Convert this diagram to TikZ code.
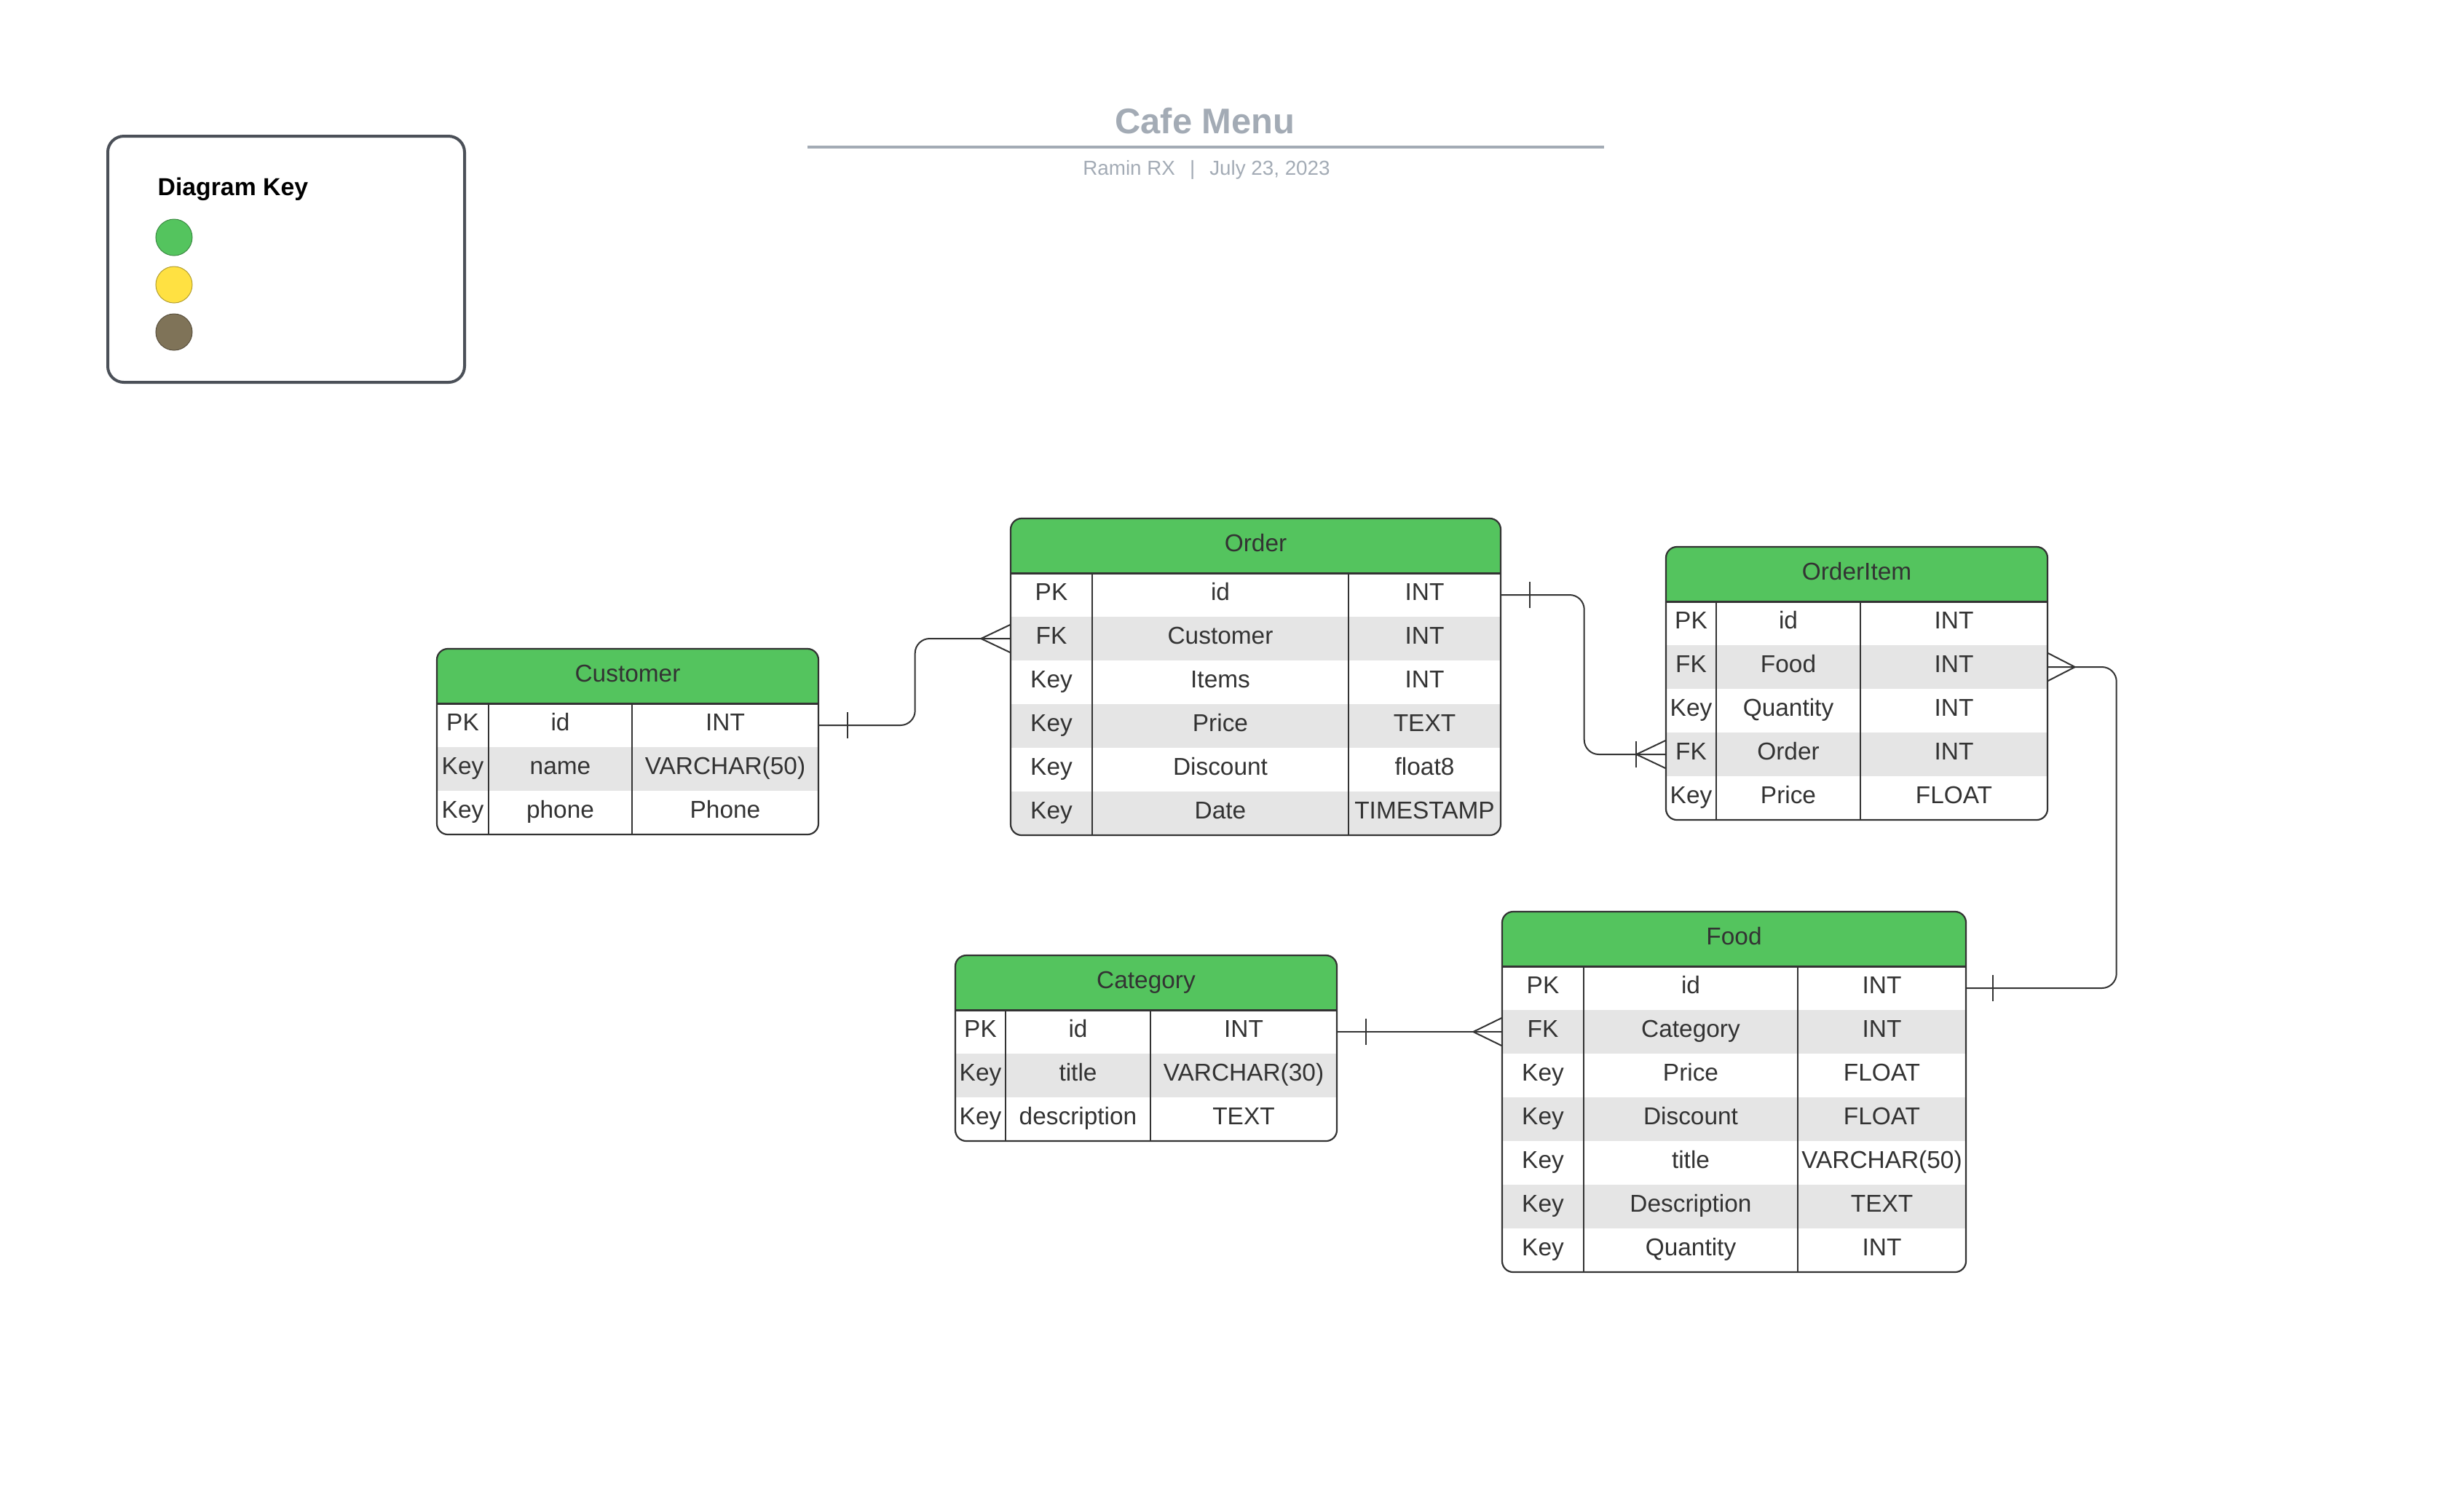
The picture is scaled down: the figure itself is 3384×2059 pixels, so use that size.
\documentclass[tikz,border=0pt]{standalone}
\usepackage{fontspec}
\setmainfont{Liberation Sans}
\usetikzlibrary{calc}

\definecolor{hdrgreen}{HTML}{54C45E}
\definecolor{rowgray}{HTML}{E5E5E5}
\definecolor{inkgray}{HTML}{333333}
\definecolor{titlegray}{HTML}{A3ABB5}
\definecolor{keyframe}{HTML}{4B5058}
\definecolor{keyyellow}{HTML}{FFE142}
\definecolor{keybrown}{HTML}{7F7358}

\tikzset{
	celltext/.style={inner sep=0pt, text height=6.8pt, text depth=0pt, yshift=0.04cm,
		font=\fontsize{9.5}{11}\selectfont, text=inkgray},
	rowbox/.style={inner sep=0pt, minimum height=0.6cm},
	link/.style={draw=inkgray, line width=0.02cm},
	tabline/.style={draw=inkgray, line width=0.022cm},
	keydot/.style={circle, inner sep=0pt, minimum size=0.5cm, line width=0.01cm},
}

% #1 name, #2 title, #3 #4 top left, #5 #6 #7 column widths, #8 rows
\newcommand\ertable[8]{%
	\foreach \r [count=\n] in {#8} {\xdef\nrows{\n}}
	\pgfmathsetmacro{\tabw}{#5+#6+#7}
	\pgfmathsetmacro{\tabh}{75+60*\nrows}
	\begin{scope}
		\clip[rounded corners=0.15cm] (#3,#4) rectangle ++(\tabw,\tabh);
		\fill[hdrgreen] (#3,#4) rectangle ++(\tabw,75);
		\node[celltext] (#1) at (#3+\tabw/2, #4+37.5) {#2};
		\foreach \kind/\field/\type [count=\i] in {#8} {
			\pgfmathsetmacro{\ry}{#4+75+60*(\i-1)+30}
			\ifodd\i \def\rowfill{white}\else \def\rowfill{rowgray}\fi
			\node[rowbox, minimum width=\tabw*0.01cm, fill=\rowfill] (#1-\i) at (#3+\tabw/2, \ry) {};
			\node[celltext] (#1-\i-k) at (#3+#5/2, \ry) {\kind};
			\node[celltext] (#1-\i-f) at (#3+#5+#6/2, \ry) {\field};
			\node[celltext] (#1-\i-t) at (#3+#5+#6+#7/2, \ry) {\type};
		}
	\end{scope}
	\draw[tabline, line width=0.03cm] (#3,#4+75) -- ++(\tabw,0);
	\draw[tabline] (#3+#5,#4+75) -- ++(0,\tabh-75);
	\draw[tabline] (#3+#5+#6,#4+75) -- ++(0,\tabh-75);
	\draw[tabline, rounded corners=0.15cm] (#3,#4) rectangle ++(\tabw,\tabh);
}

\begin{document}
\begin{tikzpicture}[x=0.01cm, y=-0.01cm]
	\useasboundingbox (0,0) rectangle (3384,2059);

	% title block
	\node[anchor=base, text=titlegray, font=\bfseries\fontsize{13.9}{16}\selectfont] (title) at (1655,183) {Cafe Menu};
	\draw[titlegray, line width=0.04cm] (1109,202) -- (2203,202);
	\node[anchor=base, text=titlegray, font=\fontsize{7.9}{9}\selectfont] (byline) at (1657,240) {Ramin RX \ \,|\ \, July 23, 2023};

	% key
	\draw[keyframe, line width=0.04cm, rounded corners=0.22cm] (148,187) rectangle (638,525);
	\node[anchor=base west, inner sep=0pt, font=\bfseries\fontsize{9.6}{11}\selectfont] (keytitle) at (216,268) {Diagram Key};
	\node[keydot, fill=hdrgreen, draw=hdrgreen!70!black] (keygreen) at (239,326) {};
	\node[keydot, fill=keyyellow, draw=keyyellow!70!black] (keyyellow) at (239,391) {};
	\node[keydot, fill=keybrown, draw=keybrown!70!black] (keybrown) at (239,456) {};

	% tables
	\ertable{customer}{Customer}{600}{891}{71}{197}{256}
		{PK/id/INT, Key/name/VARCHAR(50), Key/phone/Phone}
	\ertable{order}{Order}{1388}{712}{112}{352}{209}
		{PK/id/INT, FK/Customer/INT, Key/Items/INT, Key/Price/TEXT, Key/Discount/float8, Key/Date/TIMESTAMP}
	\ertable{item}{OrderItem}{2288}{751}{69}{198}{257}
		{PK/id/INT, FK/Food/INT, Key/Quantity/INT, FK/Order/INT, Key/Price/FLOAT}
	\ertable{cat}{Category}{1312}{1312}{69}{199}{256}
		{PK/id/INT, Key/title/VARCHAR(30), Key/description/TEXT}
	\ertable{food}{Food}{2063}{1252}{112}{294}{231}
		{PK/id/INT, FK/Category/INT, Key/Price/FLOAT, Key/Discount/FLOAT, Key/title/VARCHAR(50), Key/Description/TEXT, Key/Quantity/INT}

	% customer -> order
	\draw[link, rounded corners=0.2cm] (customer-1.east) -- ++(132,0) |- (order-2.west);
	\draw[link] ($(customer-1.east)+(39,-18)$) -- ++(0,36);
	\draw[link] ($(order-2.west)+(0,-19)$) -- ++(-40,19) -- ++(40,19);

	% order -> orderitem
	\draw[link, rounded corners=0.2cm] (order-1.east) -- ++(114,0) |- (item-4.west);
	\draw[link] ($(order-1.east)+(39,-18)$) -- ++(0,36);
	\draw[link] ($(item-4.west)+(0,-19)$) -- ++(-40,19) -- ++(40,19);
	\draw[link] ($(item-4.west)+(-40,-18)$) -- ++(0,36);

	% orderitem -> food
	\draw[link, rounded corners=0.2cm] (item-2.east) -- ++(94,0) |- (food-1.east);
	\draw[link] ($(item-2.east)+(0,-19)$) -- ++(37,19) -- ++(-37,19);
	\draw[link] ($(food-1.east)+(36,-18)$) -- ++(0,36);

	% category -> food
	\draw[link] (cat-1.east) -- (food-2.west);
	\draw[link] ($(cat-1.east)+(39,-18)$) -- ++(0,36);
	\draw[link] ($(food-2.west)+(0,-19)$) -- ++(-39,19) -- ++(39,19);
\end{tikzpicture}
\end{document}
